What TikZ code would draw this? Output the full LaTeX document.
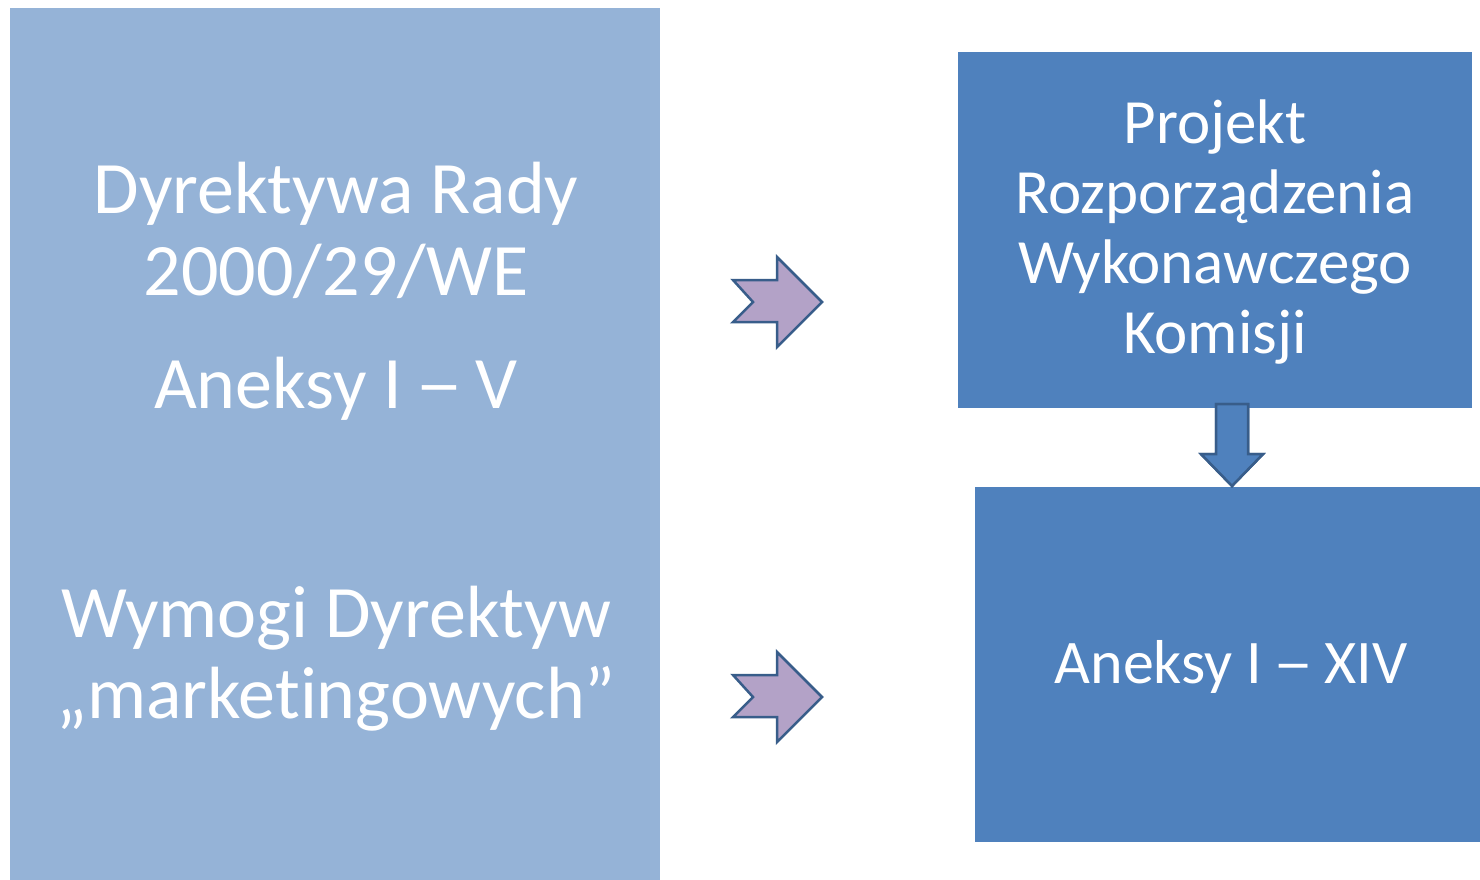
\documentclass[tikz,border=0pt]{standalone}
\usepackage{fontspec}
\setmainfont{Carlito}[Ligatures = NoCommon]
\definecolor{paleblue}{HTML}{95B3D7}
\definecolor{boxblue}{HTML}{4F81BD}
\definecolor{edgeblue}{HTML}{385D8A}
\definecolor{lilac}{HTML}{B3A2C7}
\newcommand{\widedash}{\scalebox{1.3}[1]{–}}
\newcommand{\notchedarrow}[1]{\draw [arrowshape, fill = lilac, shift = {(0, #1)}] (733, 280) -- (777, 280) -- (777, 257) -- (822, 302) -- (777, 347) -- (777, 322) -- (733, 322) -- (753, 302) -- cycle;}

\begin{document}
\begin{tikzpicture}[x = 1pt, y = -1pt, every node/.style = {inner sep = 0, text = white}, box/.style = {rectangle, draw = none}, boxtext/.style = {align = center, anchor = base}, arrowshape/.style = {draw = edgeblue, line width = 2.5pt, line join = miter}]
	\useasboundingbox (0, 0) rectangle (1480, 879);
	\node (council) at (335, 443.5) [box, fill = paleblue, minimum width = 650pt, minimum height = 872pt] {};
	\node (implreg) at (1215, 230) [box, fill = boxblue, minimum width = 514pt, minimum height = 356pt] {};
	\node (annexes) at (1227.5, 664.5) [box, fill = boxblue, minimum width = 505pt, minimum height = 355pt] {};

	\node (dirtext) at (336, 408) [boxtext, font = \fontsize{74}{82}\selectfont] {Dyrektywa Rady\\2000/29/WE\\[31pt]Aneksy I\hspace{-0.05em} \widedash{} \hspace{-0.05em}V};
	\node (marktext) at (336, 718) [boxtext, font = \fontsize{74}{81}\selectfont] {Wymogi Dyrektyw\\„marketingowych”};
	\node (regtext) at (1215, 353) [boxtext, font = \fontsize{63}{70}\selectfont] {Projekt\\Rozporządzenia\\Wykonawczego\\Komisji};
	\node (annextext) at (1231, 683) [boxtext, font = \fontsize{62}{73}\selectfont] {Aneksy I\hspace{-0.05em} \widedash{} \hspace{-0.05em}XIV};

	\foreach \shiftY in {0, 395}
		\notchedarrow{\shiftY}
	\draw [arrowshape, fill = boxblue] (1216, 404) -- (1248, 404) -- (1248, 454) -- (1263, 454) -- (1232, 486) -- (1201, 454) -- (1216, 454) -- cycle;
\end{tikzpicture}
\end{document}
